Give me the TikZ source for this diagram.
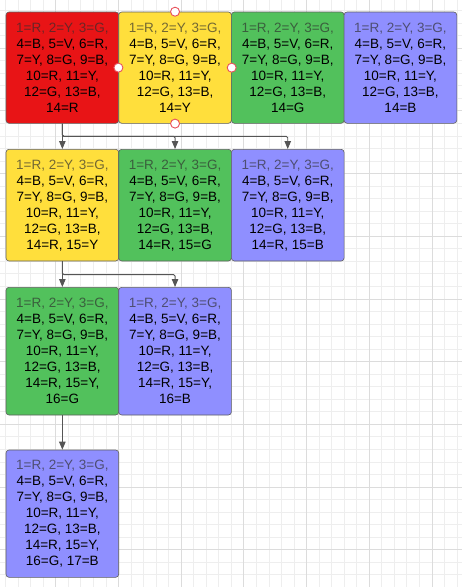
\documentclass[tikz,border=0pt]{standalone}
\usepackage{fontspec}
\setmainfont{Liberation Sans}
\usetikzlibrary{arrows.meta}
\definecolor{cred}{HTML}{E81416}
\definecolor{cyel}{HTML}{FFDF3C}
\definecolor{cgrn}{HTML}{52C15C}
\definecolor{cblu}{HTML}{8F8FFF}
\definecolor{txtgray}{HTML}{2E2E2E}
\definecolor{bord}{HTML}{5E5E5E}
\definecolor{gminor}{HTML}{EEEEEE}
\definecolor{gmajor}{HTML}{DCDCDC}
\definecolor{conncol}{HTML}{555555}
\definecolor{hred}{HTML}{E8505A}
\newcommand{\firstln}[2]{\textcolor{#1!33!txtgray}{#2}}
\newcommand{\basetxt}[1]{\firstln{#1}{1=R, 2=Y, 3=G,}\\4=B, 5=V, 6=R,\\7=Y, 8=G, 9=B,\\10=R, 11=Y,\\12=G, 13=B,}
\begin{document}
\begin{tikzpicture}[x=1pt,y=-1pt,
  cell/.style={draw=bord, line width=0.6pt, rounded corners=3pt, minimum width=112.7pt,
    inner sep=0pt, align=center, font=\fontsize{13.5}{16}\selectfont, text=black},
  conn/.style={draw=conncol, line width=0.9pt, -{Triangle[length=8pt,width=6.5pt]}, rounded corners=1.5pt},
  handle/.style={circle, draw=hred, fill=white, line width=0.9pt, minimum size=9pt, inner sep=0pt},
  gmin/.style={draw=gminor, line width=0.9pt},
  gmaj/.style={draw=gmajor, line width=0.9pt}]
\useasboundingbox (0,0) rectangle (462,587);
\fill[white] (0,0) rectangle (462,587);
% grid
\foreach \i in {-5,...,33} {\draw[gmin] ({55.8+12.54*\i},0) -- ({55.8+12.54*\i},587);}
\foreach \i in {-4,...,43} {\draw[gmin] (0,{48.2+12.54*\i}) -- (462,{48.2+12.54*\i});}
\foreach \i in {-1,...,7} {\draw[gmaj] ({55.8+62.7*\i},0) -- ({55.8+62.7*\i},587);}
\foreach \i in {-1,...,9} {\draw[gmaj] (0,{48.2+62.7*\i}) -- (462,{48.2+62.7*\i});}
% row 1
\node[cell, fill=cred, minimum height=111.3pt] (a1) at (62.35,67.65) {\basetxt{cred}\\14=R};
\node[cell, fill=cyel, minimum height=111.3pt] (a2) at (175.05,67.65) {\basetxt{cyel}\\14=Y};
\node[cell, fill=cgrn, minimum height=111.3pt] (a3) at (287.75,67.65) {\basetxt{cgrn}\\14=G};
\node[cell, fill=cblu, minimum height=111.3pt] (a4) at (400.45,67.65) {\basetxt{cblu}\\14=B};
% row 2
\node[cell, fill=cyel, minimum height=111.7pt] (b1) at (62.35,205.15) {\basetxt{cyel}\\14=R, 15=Y};
\node[cell, fill=cgrn, minimum height=111.7pt] (b2) at (175.05,205.15) {\basetxt{cgrn}\\14=R, 15=G};
\node[cell, fill=cblu, minimum height=111.7pt] (b3) at (287.75,205.15) {\basetxt{cblu}\\14=R, 15=B};
% row 3
\node[cell, fill=cgrn, minimum height=127.7pt] (c1) at (62.35,351.15) {\basetxt{cgrn}\\14=R, 15=Y,\\16=G};
\node[cell, fill=cblu, minimum height=127.7pt] (c2) at (175.05,351.15) {\basetxt{cblu}\\14=R, 15=Y,\\16=B};
% row 4
\node[cell, fill=cblu, minimum height=127.3pt] (d1) at (62.35,513.65) {\basetxt{cblu}\\14=R, 15=Y,\\16=G, 17=B};
% connectors
\draw[conn] (a1.south) -- ++(0,12.7) -| (b3.north);
\draw[conn] (a1.south) -- ++(0,12.7) -| (b2.north);
\draw[conn] (a1.south) -- (b1.north);
\draw[conn] (b1.south) -- ++(0,13.3) -| (c2.north);
\draw[conn] (b1.south) -- (c1.north);
\draw[conn] (c1.south) -- (d1.north);
% selection handles
\node[handle] (h1) at (a2.north) {};
\node[handle] (h2) at (a2.west) {};
\node[handle] (h3) at (a2.east) {};
\node[handle] (h4) at (a2.south) {};
\end{tikzpicture}
\end{document}
